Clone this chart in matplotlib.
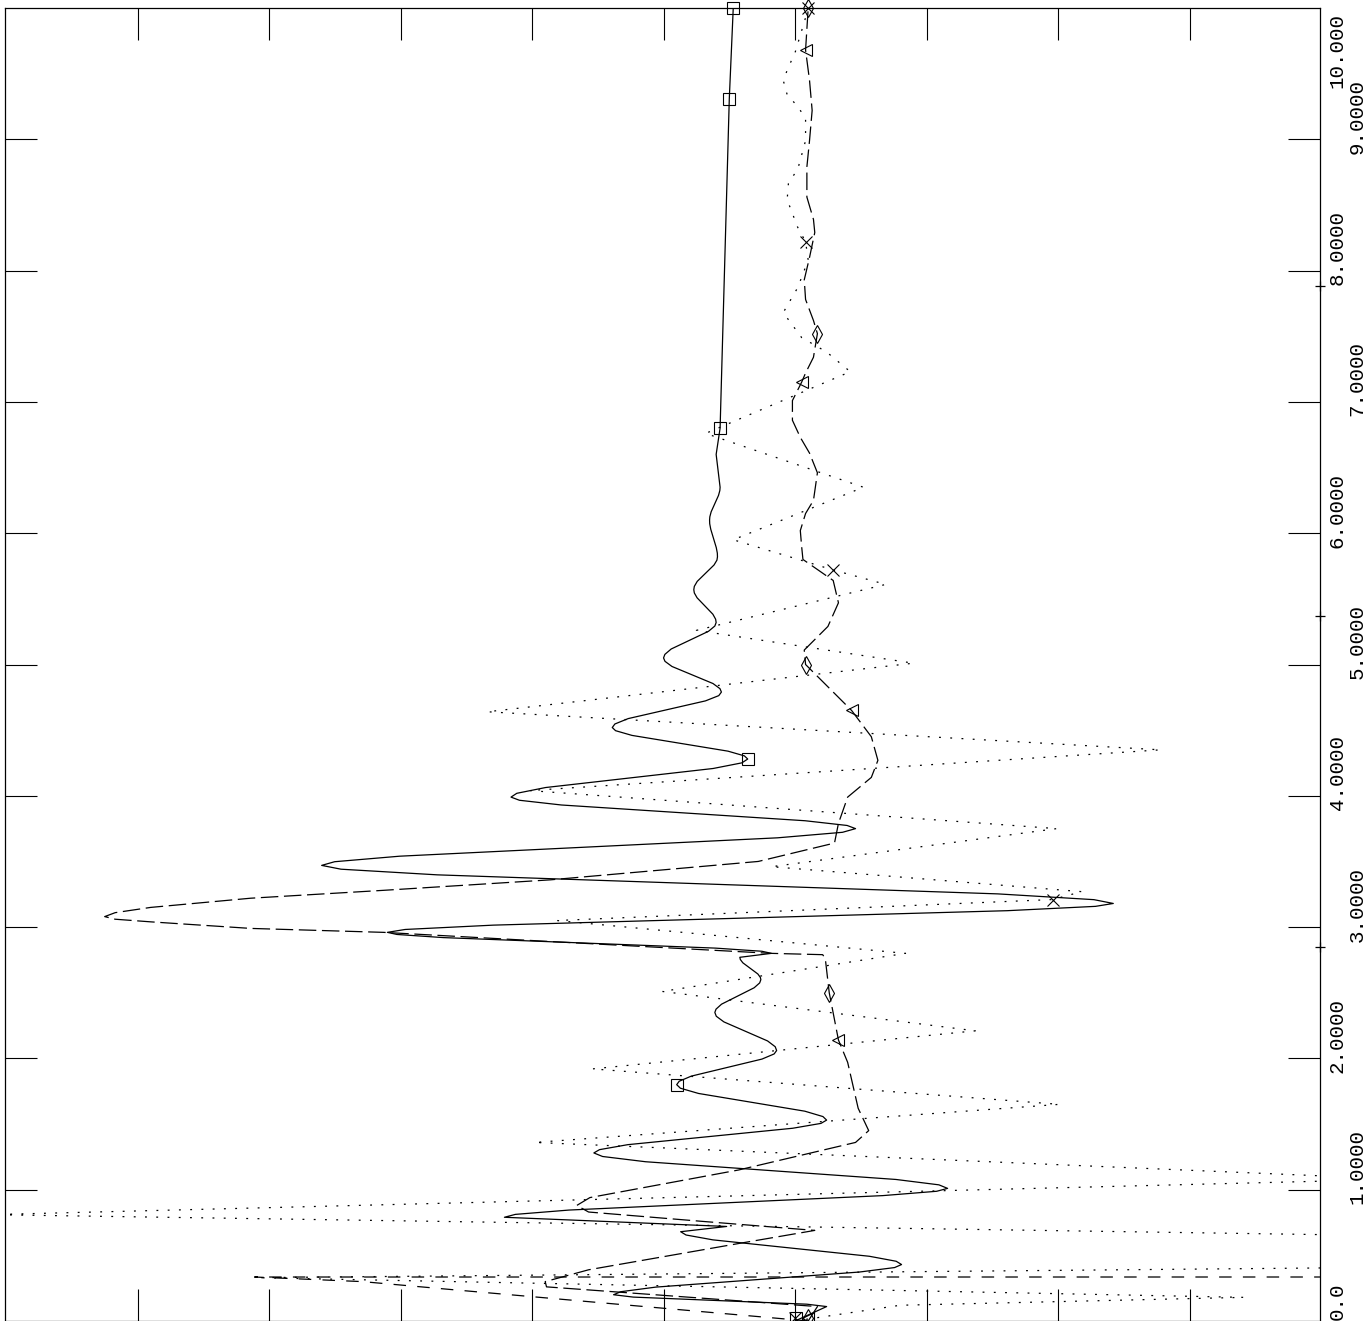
import matplotlib
matplotlib.use("Agg")
import matplotlib.pyplot as plt

# time axis (drawn vertically) and response values (drawn horizontally)
solid_t = [0.00, 0.11, 0.128, 0.182, 0.20,
           0.223, 0.258, 0.373, 0.407, 0.43,
           0.455, 0.493, 0.618, 0.655, 0.68, 0.72, 0.79,
           0.812, 0.845, 0.955, 0.988, 1.01,
           1.037, 1.078, 1.213, 1.253, 1.28,
           1.305, 1.343, 1.468, 1.505, 1.53,
           1.557, 1.598, 1.733, 1.773, 1.80,
           1.826, 1.865, 1.995, 2.034, 2.06,
           2.089, 2.133, 2.278, 2.321, 2.35,
           2.375, 2.413, 2.538, 2.575, 2.60,
           2.617, 2.643, 2.728, 2.753, 2.77, 2.80,
           2.816, 2.84, 2.92, 2.944, 2.96,
           2.982, 3.015, 3.125, 3.158, 3.18,
           3.209, 3.253, 3.398, 3.441, 3.47,
           3.498, 3.54, 3.68, 3.722, 3.75,
           3.774, 3.81, 3.93, 3.966, 3.99,
           4.019, 4.063, 4.208, 4.251, 4.28,
           4.304, 4.34, 4.46, 4.496, 4.52,
           4.547, 4.588, 4.723, 4.763, 4.79,
           4.816, 4.855, 4.985, 5.024, 5.05,
           5.077, 5.118, 5.253, 5.293, 5.32,
           5.345, 5.383, 5.508, 5.545, 5.57,
           5.595, 5.633, 5.758, 5.795, 5.82,
           5.848, 5.89, 6.03, 6.072, 6.10,
           6.125, 6.163, 6.288, 6.325, 6.35,
           6.60, 6.80, 9.31, 10.00]
solid_v = [0.00, 0.24, 0.09, -1.23, -1.38,
           -1.326, -1.060, 0.490, 0.757, 0.81,
           0.769, 0.565, -0.625, -0.829, -0.87, -0.52, -2.21,
           -2.127, -1.718, 0.668, 1.077, 1.16,
           1.094, 0.767, -1.137, -1.464, -1.53,
           -1.487, -1.272, -0.018, 0.197, 0.24,
           0.212, 0.074, -0.734, -0.872, -0.90,
           -0.881, -0.789, -0.251, -0.159, -0.14,
           -0.151, -0.209, -0.541, -0.599, -0.61,
           -0.601, -0.559, -0.311, -0.269, -0.26,
           -0.264, -0.283, -0.397, -0.416, -0.42, -0.18,
           -0.252, -0.606, -2.674, -3.028, -3.10,
           -2.965, -2.294, 1.614, 2.285, 2.42,
           2.273, 1.541, -2.721, -3.453, -3.60,
           -3.501, -3.007, -0.133, 0.361, 0.46,
           0.396, 0.077, -1.777, -2.096, -2.16,
           -2.116, -1.897, -0.623, -0.404, -0.36,
           -0.385, -0.510, -1.240, -1.365, -1.39,
           -1.370, -1.269, -0.681, -0.580, -0.56,
           -0.571, -0.624, -0.936, -0.989, -1.00,
           -0.990, -0.942, -0.658, -0.610, -0.60,
           -0.604, -0.625, -0.745, -0.766, -0.77,
           -0.766, -0.744, -0.616, -0.594, -0.59,
           -0.591, -0.599, -0.641, -0.649, -0.65,
           -0.648, -0.638, -0.582, -0.572, -0.57,
           -0.60, -0.57, -0.50, -0.47]

dot_t = [0.00, 0.12, 0.18, 0.33, 0.50, 0.81, 1.08, 1.36, 1.65, 1.92, 2.21, 2.51, 2.80, 3.05,
         3.21, 3.27, 3.46, 3.75, 4.04, 4.35, 4.64, 5.01, 5.26, 5.61, 5.72, 5.95, 6.35, 6.76,
         7.23, 7.38, 7.49, 7.68, 7.87, 8.08, 8.22, 8.33, 8.54, 8.67, 8.77, 8.99, 9.16, 9.25,
         9.34, 9.45, 9.55, 9.66, 9.96, 10.00]
dot_v = [0.00, 0.80, 3.41, -4.09, 14.5, -6.12, 4.60, -1.98, 2.01, -1.54, 1.37, -1.01, 0.84, -1.81,
         1.96, 2.18, -0.18, 1.99, -2.02, 2.78, -2.34, 0.90, -0.75, 0.69, 0.29, -0.47, 0.52, -0.68,
         0.42, 0.24, 0.05, -0.09, 0.02, 0.10, 0.08, 0.02, -0.06, -0.05, 0.02, 0.08, 0.08, 0.02,
         -0.06, -0.09, -0.05, 0.00, 0.09, 0.10]

dash_t = [0.00, 0.11, 0.26, 0.30, 0.39, 0.59, 0.69, 0.76, 0.83, 0.88, 0.94, 1.15, 1.36, 1.45,
          1.62, 1.97, 2.14, 2.50, 2.76, 2.79, 2.80, 2.89, 2.96, 2.99, 3.04, 3.06, 3.08, 3.11,
          3.15, 3.22,
          3.28, 3.36, 3.50, 3.64, 3.79, 3.99, 4.14, 4.27, 4.45, 4.65, 4.83, 5.00, 5.11, 5.29,
          5.47, 5.64, 5.80, 5.90, 6.02, 6.15, 6.25, 6.46, 6.61, 6.73, 6.86, 7.01, 7.15, 7.22,
          7.34, 7.52, 7.62, 7.78, 7.93, 8.10, 8.29, 8.39, 8.56, 8.79, 8.99, 9.22, 9.45, 9.68, 10.00]
dash_v = [0.10, 0.17, -1.89, -1.90, -1.57, -0.43, 0.15, -0.72, -1.57, -1.66, -1.56, -0.43, 0.46, 0.56,
          0.48, 0.40, 0.33, 0.26, 0.23, 0.21, -0.18, -1.86, -3.13, -4.14, -4.90, -5.17, -5.25, -5.17,
          -4.90, -4.14,
          -3.13, -1.86, -0.28, 0.30, 0.33, 0.40, 0.58, 0.63, 0.58, 0.43, 0.25, 0.08, 0.07, 0.25,
          0.33, 0.29, 0.06, 0.05, 0.04, 0.08, 0.14, 0.17, 0.11, 0.04, -0.02, -0.02, 0.05, 0.08,
          0.14, 0.17, 0.14, 0.08, 0.07, 0.11, 0.15, 0.14, 0.09, 0.09, 0.11, 0.13, 0.11, 0.08, 0.10]

# curve that blows up right after the start
blow_t = [0.00, 0.24, 0.30, 0.335, 0.343]
blow_v = [0.10, -2.62, -3.29, -4.11, 800.0]

# marker positions
sq_t = [0.02, 1.80, 4.28, 6.80, 9.31, 10.00]
sq_v = [0.01, -0.90, -0.36, -0.57, -0.50, -0.47]
x_t = [0.02, 3.21, 5.72, 8.22, 10.00]
x_v = [0.00, 1.96, 0.29, 0.08, 0.10]
tri_t = [0.02, 2.14, 4.65, 7.15, 9.68]
tri_v = [0.10, 0.33, 0.43, 0.05, 0.08]
dia_t = [0.02, 2.50, 5.00, 7.52, 10.00]
dia_v = [0.10, 0.26, 0.08, 0.17, 0.10]

t_labels = ['0.0', '1.0000', '2.0000', '3.0000', '4.0000', '5.0000',
            '6.0000', '7.0000', '8.0000', '9.0000', '10.000']
label_t = [0.15, 1.175, 2.175, 3.175, 4.175, 5.175, 6.175, 7.175, 8.175, 9.175, 9.68]
cross_t = [2.85, 5.37, 7.88]

fig = plt.figure(figsize=(13.72, 13.21), dpi=100)
ax = fig.add_axes([5 / 1372, 0, 1315 / 1372, 1313 / 1321])
ax.set_xlim(-6.008, 3.992)
ax.set_ylim(0, 10)

lw = 0.9
ax.plot(solid_v, solid_t, color='black', lw=lw)
ax.plot(dot_v, dot_t, color='black', lw=lw, linestyle=(0, (1.5, 7.5)))
ax.plot(dash_v, dash_t, color='black', lw=lw, linestyle=(0, (14, 4.5)))
ax.plot(blow_v, blow_t, color='black', lw=lw, linestyle=(0, (10, 9)))

mk = dict(color='black', mfc='none', mew=0.8, linestyle='none', clip_on=False)
ax.plot(sq_v, sq_t, marker='s', ms=8.5, **mk)
ax.plot(x_v, x_t, marker='x', ms=8.5, **mk)
ax.plot(tri_v, tri_t, marker='<', ms=8.5, **mk)
ax.plot(dia_v, dia_t, marker='d', ms=9, **mk)

ax.set_xticks(range(-5, 4))
ax.set_yticks(range(1, 10))
ax.tick_params(direction='in', length=23, width=0.8, top=True, right=True,
               labelbottom=False, labelleft=False)
for s in ax.spines.values():
    s.set_linewidth(0.9)

ax.plot([3.992] * len(cross_t), cross_t, marker='+', ms=7.5, mew=0.9, color='black',
        linestyle='none', clip_on=False)

for i, lab in enumerate(t_labels):
    xa = 1.013 if i % 2 == 0 else 1.028
    ax.text(xa, label_t[i], lab, transform=ax.get_yaxis_transform(), rotation=90,
            ha='center', va='center', fontsize=15, family='Liberation Mono', clip_on=False)

fig.savefig('out.png', dpi=100)
